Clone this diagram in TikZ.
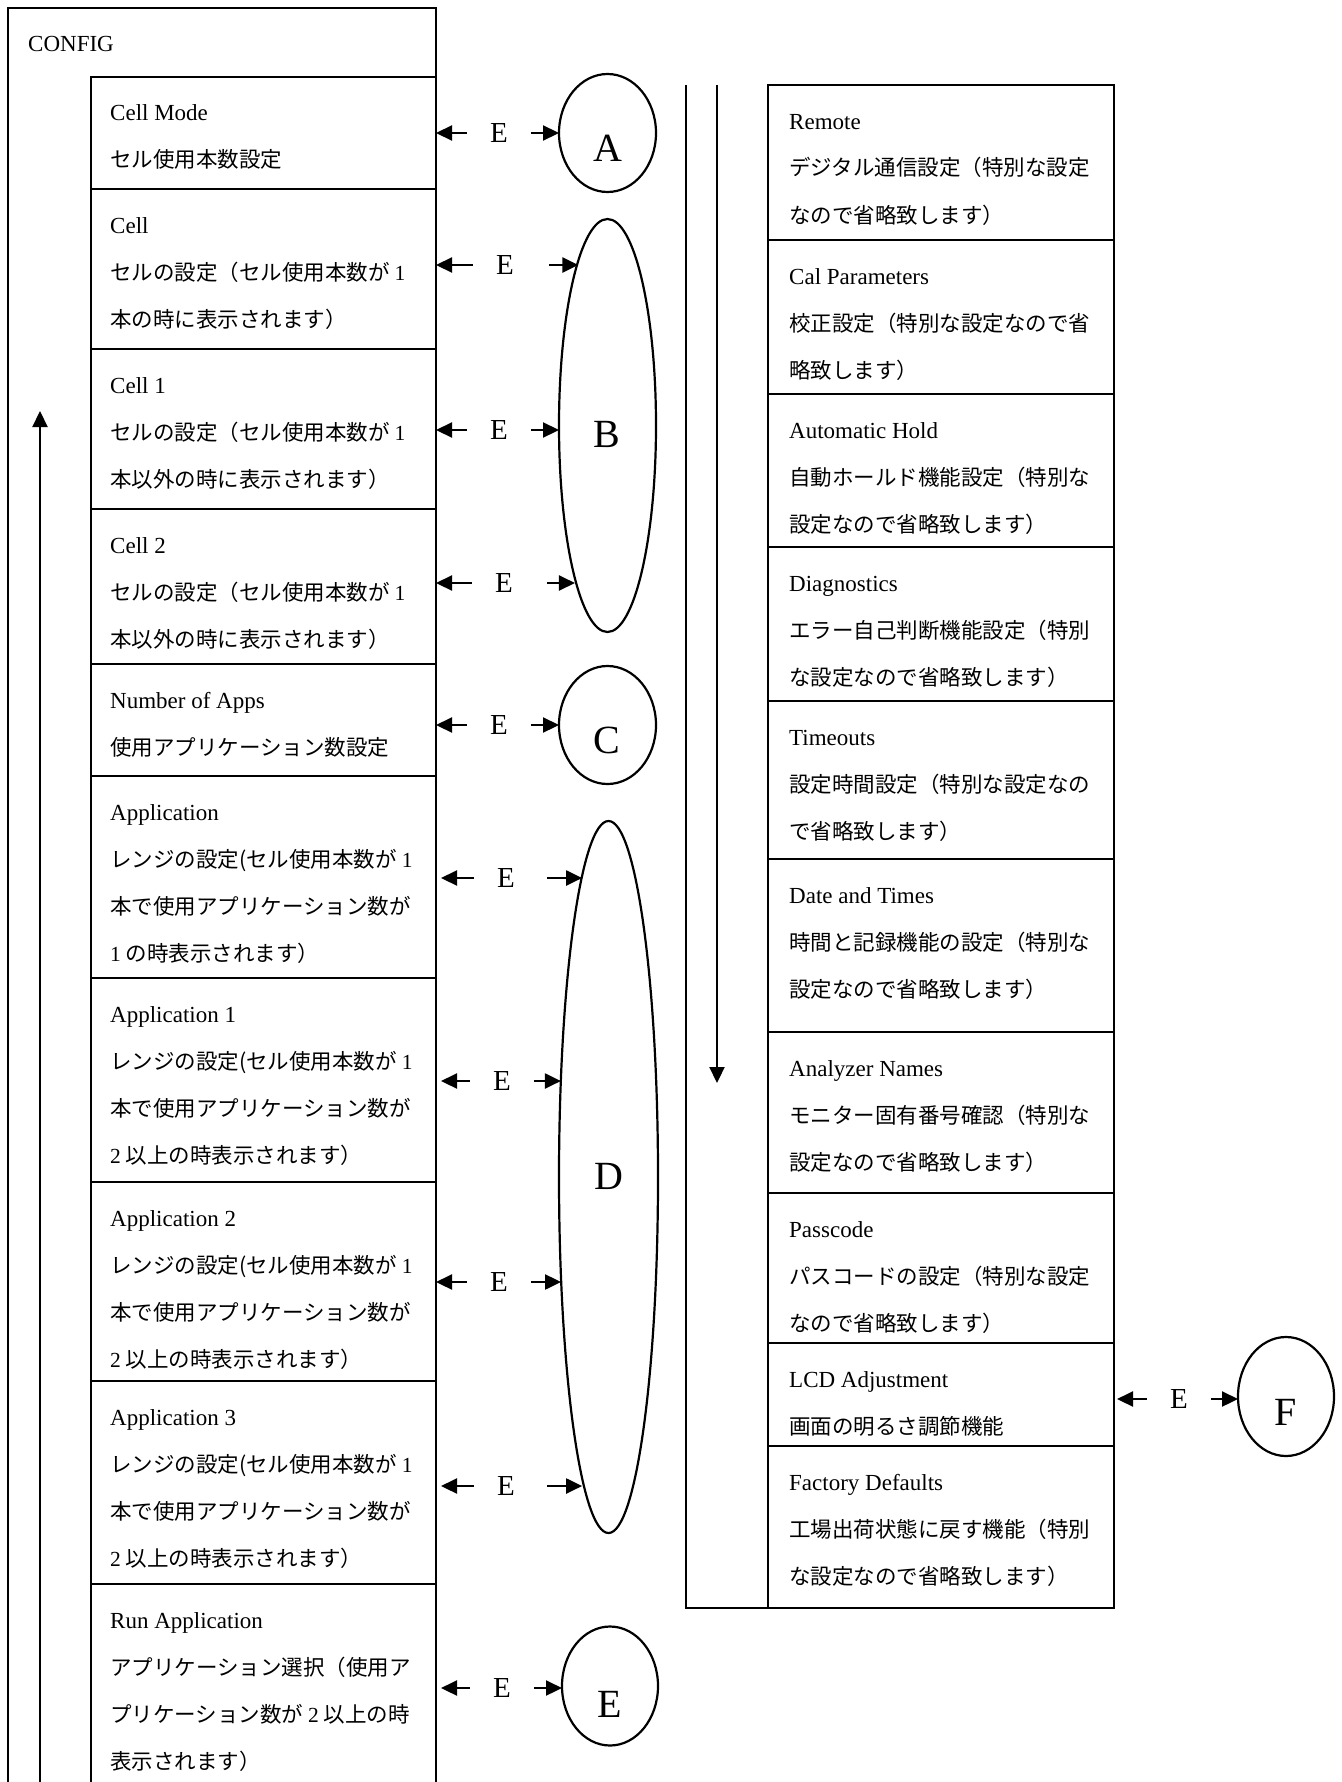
\documentclass[tikz,border=0pt]{standalone}
\usepackage{fontspec}
\setmainfont{Liberation Serif}
\newfontfamily\jp{Noto Sans CJK JP}
\usetikzlibrary{arrows.meta,shapes.geometric}
\newcommand\Le[1]{\hbox{#1}}
\newcommand\Lj[1]{\hbox{\fontsize{21.5}{47}\jp #1}}
\newcommand\dg[1]{{\rmfamily #1}}
\newcommand\ml[1]{\vtop{\baselineskip=47pt\lineskiplimit=-100pt\lineskip=0pt #1}}
\tikzset{
  frame/.style={line width=2.3pt, line join=miter},
  cellbox/.style={draw, line width=2.3pt, rectangle, anchor=north west, inner sep=0pt, outer sep=0pt, minimum width=345, minimum height=#1},
  rbox/.style={cellbox=#1, minimum width=346},
  txt/.style={anchor=base west, inner sep=0pt, font=\fontsize{23}{47}\selectfont},
  oval/.style={draw, ellipse, line width=2.2pt, inner sep=0pt, outer sep=0pt},
  big/.style={inner sep=0pt, font=\fontsize{40}{40}\selectfont},
  elab/.style={inner sep=0pt, minimum width=64, font=\fontsize{29}{29}\selectfont},
  arr/.style={line width=2.2pt, -{Triangle[length=16pt,width=15pt]}},
}
\begin{document}
\begin{tikzpicture}[x=1pt,y=-1pt]
\useasboundingbox (0,0) rectangle (1341,1782);
\fill[white] (0,0) rectangle (1341,1782);
\clip (0,0) rectangle (1341,1782);

% ---------- left column ----------
\draw[frame] (8,1800) -- (8,8) -- (436,8) -- (436,77);
\node[txt] (config) at (28,52) {CONFIG};
\coordinate (upfoot) at (40,1800);
\coordinate (uphead) at (40,411);
\draw[arr] (upfoot) -- (uphead);

\node[cellbox=112] (L1) at (91,77) {};
\node[cellbox=160] (L2) at (91,189) {};
\node[cellbox=160] (L3) at (91,349) {};
\node[cellbox=155] (L4) at (91,509) {};
\node[cellbox=112] (L5) at (91,664) {};
\node[cellbox=202] (L6) at (91,776) {};
\node[cellbox=204] (L7) at (91,978) {};
\node[cellbox=199] (L8) at (91,1182) {};
\node[cellbox=203] (L9) at (91,1381) {};
\node[cellbox=240] (L10) at (91,1584) {};

\node[txt] (t1) at ([shift={(19,44)}]L1.north west) {\ml{\Le{Cell Mode}\Lj{セル使用本数設定}}};
\node[txt] (t2) at ([shift={(19,44)}]L2.north west) {\ml{\Le{Cell}\Lj{セルの設定（セル使用本数が \dg{1}}\Lj{本の時に表示されます）}}};
\node[txt] (t3) at ([shift={(19,44)}]L3.north west) {\ml{\Le{Cell 1}\Lj{セルの設定（セル使用本数が \dg{1}}\Lj{本以外の時に表示されます）}}};
\node[txt] (t4) at ([shift={(19,44)}]L4.north west) {\ml{\Le{Cell 2}\Lj{セルの設定（セル使用本数が \dg{1}}\Lj{本以外の時に表示されます）}}};
\node[txt] (t5) at ([shift={(19,44)}]L5.north west) {\ml{\Le{Number of Apps}\Lj{使用アプリケーション数設定}}};
\node[txt] (t6) at ([shift={(19,44)}]L6.north west) {\ml{\Le{Application}\Lj{レンジの設定(セル使用本数が \dg{1}}\Lj{本で使用アプリケーション数が}\Lj{\dg{1} の時表示されます）}}};
\node[txt] (t7) at ([shift={(19,44)}]L7.north west) {\ml{\Le{Application 1}\Lj{レンジの設定(セル使用本数が \dg{1}}\Lj{本で使用アプリケーション数が}\Lj{\dg{2} 以上の時表示されます）}}};
\node[txt] (t8) at ([shift={(19,44)}]L8.north west) {\ml{\Le{Application 2}\Lj{レンジの設定(セル使用本数が \dg{1}}\Lj{本で使用アプリケーション数が}\Lj{\dg{2} 以上の時表示されます）}}};
\node[txt] (t9) at ([shift={(19,44)}]L9.north west) {\ml{\Le{Application 3}\Lj{レンジの設定(セル使用本数が \dg{1}}\Lj{本で使用アプリケーション数が}\Lj{\dg{2} 以上の時表示されます）}}};
\node[txt] (t10) at ([shift={(19,44)}]L10.north west) {\ml{\Le{Run Application}\Lj{アプリケーション選択（使用ア}\Lj{プリケーション数が \dg{2} 以上の時}\Lj{表示されます）}}};

% ---------- ellipses ----------
\node[oval, minimum width=97, minimum height=118] (ovA) at (607.5,133) {};
\node[oval, minimum width=97, minimum height=413] (ovB) at (607.5,425.5) {};
\node[oval, minimum width=97, minimum height=118] (ovC) at (607.5,725) {};
\node[oval, minimum width=99, minimum height=712] (ovD) at (608.5,1177) {};
\node[oval, minimum width=96, minimum height=119] (ovE) at (610,1686) {};
\node[oval, minimum width=96, minimum height=119] (ovF) at (1286,1396.5) {};
\node[big] (labA) at (607.5,148.5) {A};
\node[big] (labB) at (607,434.5) {B};
\node[big] (labC) at (607,740) {C};
\node[big] (labD) at (608.5,1176) {D};
\node[big] (labE) at (610,1704) {E};
\node[big] (labF) at (1286,1412) {F};

% ---------- E connectors ----------
\node[elab] (e1) at (499,133) {E};
\node[elab] (e2) at (505,265) {E};
\node[elab] (e3) at (499,430) {E};
\node[elab] (e4) at (504,583) {E};
\node[elab] (e5) at (499,725) {E};
\node[elab] (e6) at (506,878) {E};
\node[elab] (e7) at (502,1081) {E};
\node[elab] (e8) at (499,1282) {E};
\node[elab] (e9) at (506,1486) {E};
\node[elab] (e10) at (502,1688) {E};

\draw[arr] (e1.west) -- (e1.west -| L1.east);
\draw[arr] (e2.west) -- (e2.west -| L2.east);
\draw[arr] (e3.west) -- (e3.west -| L3.east);
\draw[arr] (e4.west) -- (e4.west -| L4.east);
\draw[arr] (e5.west) -- (e5.west -| L5.east);
\draw[arr, shorten >=5pt] (e6.west) -- (e6.west -| L6.east);
\draw[arr, shorten >=5pt] (e7.west) -- (e7.west -| L7.east);
\draw[arr] (e8.west) -- (e8.west -| L8.east);
\draw[arr, shorten >=5pt] (e9.west) -- (e9.west -| L9.east);
\draw[arr, shorten >=5pt] (e10.west) -- (e10.west -| L10.east);

\draw[arr] (e1.east) -- (e1.east -| ovA.west);
\draw[arr, shorten <=12pt] (e2.east) -- (e2.east -| ovB.100.77);
\draw[arr] (e3.east) -- (e3.east -| ovB.west);
\draw[arr, shorten <=11pt] (e4.east) -- (e4.east -| ovB.258.74);
\draw[arr] (e5.east) -- (e5.east -| ovC.west);
\draw[arr, shorten <=9pt] (e6.east) -- (e6.east -| ovD.95.13);
\draw[arr] (e7.east) -- (e7.east -| ovD.116.41);
\draw[arr] (e8.east) -- (e8.east -| ovD.245.75);
\draw[arr, shorten <=9pt] (e9.east) -- (e9.east -| ovD.265.45);
\draw[arr] (e10.east) -- (e10.east -| ovE.west);

% ---------- right column ----------
\node[rbox=155] (R1) at (768,85) {};
\node[rbox=154] (R2) at (768,240) {};
\node[rbox=153] (R3) at (768,394) {};
\node[rbox=154] (R4) at (768,547) {};
\node[rbox=158] (R5) at (768,701) {};
\node[rbox=173] (R6) at (768,859) {};
\node[rbox=161] (R7) at (768,1032) {};
\node[rbox=150] (R8) at (768,1193) {};
\node[rbox=103] (R9) at (768,1343) {};
\node[rbox=162] (R10) at (768,1446) {};
\draw[frame] (686,85) -- (686,1608) -- (R10.south west);
\coordinate (dntop) at (717,85);
\coordinate (dnhead) at (717,1083);
\draw[arr] (dntop) -- (dnhead);

\node[txt] (r1) at ([shift={(21,44)}]R1.north west) {\ml{\Le{Remote}\Lj{デジタル通信設定（特別な設定}\Lj{なので省略致します）}}};
\node[txt] (r2) at ([shift={(21,44)}]R2.north west) {\ml{\Le{Cal Parameters}\Lj{校正設定（特別な設定なので省}\Lj{略致します）}}};
\node[txt] (r3) at ([shift={(21,44)}]R3.north west) {\ml{\Le{Automatic Hold}\Lj{自動ホールド機能設定（特別な}\Lj{設定なので省略致します）}}};
\node[txt] (r4) at ([shift={(21,44)}]R4.north west) {\ml{\Le{Diagnostics}\Lj{エラー自己判断機能設定（特別}\Lj{な設定なので省略致します）}}};
\node[txt] (r5) at ([shift={(21,44)}]R5.north west) {\ml{\Le{Timeouts}\Lj{設定時間設定（特別な設定なの}\Lj{で省略致します）}}};
\node[txt] (r6) at ([shift={(21,44)}]R6.north west) {\ml{\Le{Date and Times}\Lj{時間と記録機能の設定（特別な}\Lj{設定なので省略致します）}}};
\node[txt] (r7) at ([shift={(21,44)}]R7.north west) {\ml{\Le{Analyzer Names}\Lj{モニター固有番号確認（特別な}\Lj{設定なので省略致します）}}};
\node[txt] (r8) at ([shift={(21,44)}]R8.north west) {\ml{\Le{Passcode}\Lj{パスコードの設定（特別な設定}\Lj{なので省略致します）}}};
\node[txt] (r9) at ([shift={(21,44)}]R9.north west) {\ml{\Le{LCD Adjustment}\Lj{画面の明るさ調節機能}}};
\node[txt] (r10) at ([shift={(21,44)}]R10.north west) {\ml{\Le{Factory Defaults}\Lj{工場出荷状態に戻す機能（特別}\Lj{な設定なので省略致します）}}};

\node[elab] (ef) at (1179,1399) {E};
\draw[arr, shorten >=3pt] (ef.west) -- (ef.west -| R9.east);
\draw[arr] (ef.east) -- (ef.east -| ovF.west);
\end{tikzpicture}
\end{document}
